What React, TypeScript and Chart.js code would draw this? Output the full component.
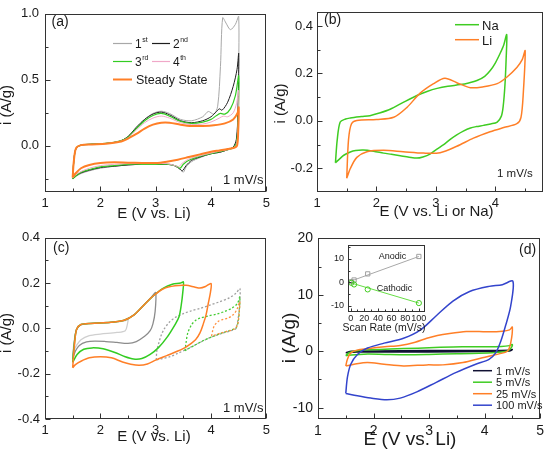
import React, { useEffect, useRef } from "react";
import { Chart, registerables } from "chart.js";
Chart.register(...registerables);

const FONT = "'Liberation Sans', Arial, Helvetica, sans-serif";
const INK = "#1a1a1a";

// ---------------- Panel (a) data ----------------
const aLegendBase = ["1", "2", "3", "4", "Steady State"];
const aLegendSup = ["st", "nd", "rd", "th", ""];
const aXTicks = [1, 2, 3, 4, 5];
const aYTicks = [0, 0.5, 1.0];
const aCycle1E = [1.5, 1.52, 1.56, 1.65, 1.85, 2.1, 2.35, 2.5, 2.65, 2.8, 2.95, 3.1, 3.25, 3.45, 3.65, 3.85, 3.95, 4.05, 4.12, 4.17, 4.21, 4.27, 4.35, 4.44, 4.5,
  4.49, 4.47, 4.42, 4.3, 4.15, 4.0, 3.8, 3.65, 3.55, 3.5, 3.45, 3.3, 3.0, 2.75, 2.5, 2.25, 2.0, 1.8, 1.65, 1.55, 1.5];
const aCycle1I = [-0.25, -0.12, -0.02, 0.005, 0.012, 0.018, 0.035, 0.07, 0.14, 0.2, 0.245, 0.262, 0.245, 0.2, 0.19, 0.22, 0.26, 0.24, 0.3, 0.6, 0.97, 0.93, 0.88, 0.92, 0.98,
  0.4, 0.1, 0.0, -0.03, -0.05, -0.06, -0.09, -0.12, -0.16, -0.2, -0.18, -0.145, -0.14, -0.14, -0.145, -0.155, -0.17, -0.19, -0.21, -0.235, -0.25];
const aCycle2E = [1.5, 1.52, 1.56, 1.65, 1.85, 2.1, 2.35, 2.5, 2.65, 2.8, 2.95, 3.1, 3.25, 3.45, 3.65, 3.85, 4.0, 4.1, 4.15, 4.2, 4.3, 4.4, 4.47, 4.5,
  4.49, 4.46, 4.4, 4.3, 4.15, 4.0, 3.8, 3.65, 3.55, 3.48, 3.42, 3.3, 3.0, 2.75, 2.5, 2.25, 2.0, 1.8, 1.65, 1.55, 1.5];
const aCycle2I = [-0.25, -0.12, -0.02, 0.005, 0.012, 0.018, 0.035, 0.07, 0.14, 0.2, 0.24, 0.255, 0.235, 0.19, 0.175, 0.19, 0.22, 0.26, 0.28, 0.27, 0.33, 0.45, 0.58, 0.7,
  0.3, 0.05, -0.01, -0.03, -0.05, -0.06, -0.085, -0.11, -0.15, -0.19, -0.17, -0.145, -0.14, -0.14, -0.145, -0.155, -0.165, -0.185, -0.205, -0.23, -0.25];
const aCycle3E = [1.5, 1.52, 1.56, 1.65, 1.85, 2.1, 2.35, 2.5, 2.65, 2.8, 2.95, 3.1, 3.25, 3.45, 3.65, 3.85, 4.0, 4.1, 4.17, 4.25, 4.35, 4.44, 4.5,
  4.49, 4.46, 4.4, 4.3, 4.15, 4.0, 3.8, 3.6, 3.5, 3.44, 3.38, 3.25, 3.0, 2.75, 2.5, 2.25, 2.0, 1.8, 1.65, 1.55, 1.5];
const aCycle3I = [-0.25, -0.12, -0.02, 0.005, 0.012, 0.018, 0.035, 0.065, 0.13, 0.19, 0.23, 0.245, 0.225, 0.185, 0.17, 0.18, 0.2, 0.23, 0.245, 0.24, 0.28, 0.38, 0.53,
  0.2, 0.02, -0.015, -0.03, -0.045, -0.06, -0.08, -0.11, -0.14, -0.17, -0.155, -0.14, -0.14, -0.14, -0.14, -0.15, -0.16, -0.18, -0.2, -0.23, -0.25];
const aCycle4E = [1.5, 1.52, 1.56, 1.65, 1.85, 2.1, 2.35, 2.5, 2.65, 2.8, 2.95, 3.1, 3.25, 3.45, 3.65, 3.85, 4.0, 4.15, 4.22, 4.3, 4.4, 4.46, 4.5,
  4.49, 4.46, 4.4, 4.3, 4.15, 4.0, 3.8, 3.6, 3.47, 3.41, 3.35, 3.2, 3.0, 2.75, 2.5, 2.25, 2.0, 1.8, 1.65, 1.55, 1.5];
const aCycle4I = [-0.245, -0.12, -0.02, 0.005, 0.01, 0.017, 0.033, 0.06, 0.12, 0.175, 0.21, 0.225, 0.21, 0.175, 0.16, 0.165, 0.18, 0.21, 0.225, 0.22, 0.25, 0.32, 0.42,
  0.15, 0.01, -0.015, -0.03, -0.04, -0.055, -0.075, -0.1, -0.135, -0.16, -0.15, -0.135, -0.135, -0.135, -0.135, -0.14, -0.15, -0.17, -0.195, -0.22, -0.245];
const aSteadyE = [1.5, 1.52, 1.56, 1.65, 1.85, 2.1, 2.35, 2.5, 2.65, 2.8, 2.95, 3.1, 3.25, 3.45, 3.65, 3.85, 4.05, 4.25, 4.4, 4.48, 4.5,
  4.49, 4.47, 4.42, 4.3, 4.15, 4.0, 3.8, 3.6, 3.4, 3.2, 3.0, 2.75, 2.5, 2.25, 2.0, 1.8, 1.65, 1.55, 1.5];
const aSteadyI = [-0.24, -0.12, -0.02, 0.005, 0.01, 0.015, 0.03, 0.055, 0.09, 0.13, 0.16, 0.175, 0.175, 0.16, 0.15, 0.15, 0.155, 0.17, 0.2, 0.25, 0.29,
  0.1, 0.0, -0.015, -0.025, -0.035, -0.045, -0.065, -0.085, -0.105, -0.12, -0.13, -0.13, -0.128, -0.125, -0.13, -0.145, -0.17, -0.21, -0.24];

// ---------------- Panel (b) data ----------------
const bLegend = ["Na", "Li"];
const bXTicks = [1, 2, 3, 4];
const bYTicks = [-0.2, 0, 0.2, 0.4];
const bNaE = [1.31, 1.34, 1.39, 1.48, 1.56, 1.75, 1.89, 2.05, 2.23, 2.45, 2.68, 2.85, 3.02, 3.2, 3.41, 3.55, 3.69, 3.82, 3.91, 4.0, 4.08, 4.14, 4.19,
  4.18, 4.16, 4.13, 4.1, 4.03, 3.92, 3.8, 3.68, 3.58, 3.46, 3.35, 3.24, 3.13, 3.01, 2.9, 2.78, 2.68, 2.55, 2.4, 2.25, 2.12, 1.95, 1.78, 1.65, 1.56, 1.45, 1.39, 1.31];
const bNaI = [-0.177, -0.08, -0.005, 0.008, 0.012, 0.018, 0.022, 0.033, 0.049, 0.078, 0.107, 0.124, 0.137, 0.146, 0.153, 0.16, 0.17, 0.188, 0.211, 0.245, 0.285, 0.32, 0.364,
  0.26, 0.15, 0.06, 0.02, -0.005, -0.013, -0.019, -0.024, -0.03, -0.043, -0.059, -0.078, -0.1, -0.12, -0.14, -0.152, -0.157, -0.153, -0.147, -0.141, -0.136, -0.128, -0.123, -0.125, -0.131, -0.145, -0.158, -0.177];
const bLiE = [1.5, 1.53, 1.58, 1.67, 2.0, 2.29, 2.51, 2.73, 2.96, 3.15, 3.35, 3.58, 3.8, 4.03, 4.19, 4.36, 4.45, 4.5,
  4.47, 4.43, 4.36, 4.14, 3.91, 3.63, 3.35, 3.07, 2.79, 2.45, 2.12, 1.84, 1.67, 1.56, 1.5];
const bLiI = [-0.242, -0.079, -0.012, 0.002, 0.006, 0.015, 0.056, 0.116, 0.157, 0.18, 0.161, 0.14, 0.144, 0.157, 0.184, 0.225, 0.258, 0.296,
  0.123, 0.015, -0.012, -0.028, -0.046, -0.073, -0.107, -0.134, -0.136, -0.13, -0.124, -0.13, -0.154, -0.201, -0.242];

// ---------------- Panel (c) data ----------------
const cXTicks = [1, 2, 3, 4, 5];
const cYTicks = [-0.4, -0.2, 0, 0.2, 0.4];
const cWin25E = [1.5, 1.53, 1.57, 1.65, 1.83, 2.1, 2.35, 2.47, 2.5, 2.49, 2.45, 2.3, 2.0, 1.8, 1.65, 1.57, 1.52, 1.5];
const cWin25I = [-0.12, -0.05, -0.005, 0.015, 0.022, 0.026, 0.03, 0.035, 0.04, 0.02, -0.01, -0.018, -0.025, -0.032, -0.05, -0.075, -0.1, -0.12];
const cWin30E = [1.5, 1.53, 1.57, 1.65, 1.83, 2.19, 2.43, 2.61, 2.79, 2.93, 3.0,
  2.99, 2.95, 2.9, 2.8, 2.65, 2.5, 2.3, 2.1, 1.9, 1.75, 1.62, 1.55, 1.5];
const cWin30I = [-0.135, -0.06, -0.005, 0.017, 0.022, 0.027, 0.036, 0.06, 0.104, 0.14, 0.158,
  0.075, 0.02, -0.01, -0.035, -0.058, -0.066, -0.062, -0.058, -0.056, -0.06, -0.075, -0.1, -0.135];
const cWin35E = [1.5, 1.53, 1.57, 1.65, 1.83, 2.19, 2.43, 2.61, 2.79, 2.96, 3.14, 3.3, 3.45, 3.5,
  3.49, 3.46, 3.42, 3.35, 3.2, 3.05, 2.9, 2.75, 2.6, 2.45, 2.25, 2.05, 1.85, 1.7, 1.58, 1.5];
const cWin35I = [-0.15, -0.07, -0.005, 0.017, 0.022, 0.027, 0.036, 0.06, 0.104, 0.144, 0.178, 0.195, 0.2, 0.205,
  0.16, 0.1, 0.05, 0.017, -0.041, -0.085, -0.115, -0.133, -0.135, -0.125, -0.105, -0.09, -0.086, -0.092, -0.115, -0.15];
const cWin40E = [1.5, 1.53, 1.57, 1.65, 1.83, 2.19, 2.43, 2.61, 2.79, 2.96, 3.14, 3.35, 3.55, 3.7, 3.8, 3.9, 4.0,
  3.99, 3.95, 3.91, 3.86, 3.8, 3.72, 3.56, 3.4, 3.2, 3.0, 2.85, 2.7, 2.55, 2.4, 2.2, 2.0, 1.8, 1.65, 1.55, 1.5];
const cWin40I = [-0.174, -0.08, -0.005, 0.017, 0.022, 0.027, 0.036, 0.06, 0.104, 0.144, 0.175, 0.188, 0.19, 0.183, 0.178, 0.185, 0.198,
  0.16, 0.11, 0.06, 0.02, -0.02, -0.05, -0.08, -0.1, -0.12, -0.14, -0.157, -0.163, -0.158, -0.148, -0.13, -0.125, -0.13, -0.145, -0.16, -0.174];
const cHi30E = [3.01, 3.02, 3.05, 3.1, 3.16, 3.25, 3.35, 3.5, 3.65, 3.8, 3.98, 4.15, 4.33, 4.45, 4.52,
  4.52, 4.5, 4.45, 4.39, 4.2, 3.98, 3.75, 3.56, 3.4, 3.26, 3.1, 3.01];
const cHi30I = [-0.139, -0.1, -0.07, -0.03, 0.0, 0.028, 0.048, 0.065, 0.078, 0.088, 0.103, 0.117, 0.135, 0.155, 0.176,
  0.12, 0.06, 0.0, -0.008, -0.022, -0.041, -0.068, -0.092, -0.11, -0.125, -0.135, -0.139];
const cHi35E = [3.53, 3.55, 3.58, 3.65, 3.72, 3.8, 3.95, 4.1, 4.25, 4.38, 4.48, 4.52,
  4.51, 4.49, 4.45, 4.35, 4.2, 3.98, 3.85, 3.7, 3.6, 3.53];
const cHi35I = [-0.099, -0.06, -0.02, 0.017, 0.035, 0.045, 0.055, 0.063, 0.075, 0.09, 0.111, 0.14,
  0.074, 0.03, 0.002, -0.008, -0.02, -0.041, -0.055, -0.075, -0.088, -0.099];
const cHi40E = [4.01, 4.03, 4.06, 4.13, 4.22, 4.3, 4.4, 4.47, 4.52,
  4.5, 4.48, 4.42, 4.3, 4.18, 4.08, 4.01];
const cHi40I = [-0.034, -0.01, 0.012, 0.031, 0.04, 0.045, 0.06, 0.085, 0.118,
  0.05, 0.017, -0.003, -0.012, -0.02, -0.028, -0.034];

// ---------------- Panel (d) data ----------------
const dLegend = ["1 mV/s", "5 mV/s", "25 mV/s", "100 mV/s"];
const dXTicks = [1, 2, 3, 4, 5];
const dYTicks = [-10, 0, 10, 20];
const d1E = [1.5, 1.6, 2.0, 3.0, 4.0, 4.45, 4.5, 4.45, 4.0, 3.0, 2.2, 1.7, 1.5];
const d1I = [-0.25, 0.0, 0.05, 0.15, 0.15, 0.2, 0.3, 0.05, -0.05, -0.12, -0.12, -0.15, -0.25];
const d5E = [1.5, 1.55, 1.65, 1.9, 2.3, 2.8, 3.2, 3.6, 4.0, 4.3, 4.45, 4.5, 4.47, 4.4, 4.2, 3.9, 3.5, 3.0, 2.6, 2.2, 1.9, 1.7, 1.55, 1.5];
const d5I = [-0.8, -0.3, 0.0, 0.25, 0.4, 0.55, 0.7, 0.8, 0.8, 0.85, 1.0, 1.2, 0.5, 0.0, -0.2, -0.35, -0.45, -0.55, -0.6, -0.55, -0.5, -0.6, -0.7, -0.8];
const d25E = [1.5, 1.53, 1.59, 1.7, 1.89, 2.2, 2.48, 2.75, 2.96, 3.15, 3.37, 3.67, 3.9, 4.08, 4.32, 4.45, 4.5,
  4.47, 4.41, 4.26, 3.96, 3.61, 3.25, 2.96, 2.54, 2.19, 1.89, 1.65, 1.5];
const d25I = [-2.6, -1.4, -0.29, 0.2, 0.46, 0.8, 1.03, 1.6, 2.3, 2.8, 3.16, 3.5, 3.5, 3.45, 3.56, 3.8, 4.3,
  1.44, 0.0, -0.46, -1.15, -2.0, -2.41, -2.41, -2.59, -2.3, -2.0, -2.3, -2.6];
const d100E = [1.5, 1.53, 1.59, 1.71, 1.89, 2.19, 2.54, 2.84, 3.13, 3.43, 3.73, 4.08, 4.32, 4.51,
  4.47, 4.38, 4.29, 4.2, 4.08, 3.84, 3.49, 3.13, 2.78, 2.48, 2.24, 1.95, 1.71, 1.5];
const d100I = [-7.47, -4.6, -2.3, -0.57, 0.57, 1.44, 2.3, 3.74, 6.3, 8.9, 10.6, 11.5, 11.8, 12.4,
  8.0, 4.6, 1.72, -0.29, -1.44, -2.3, -3.74, -5.5, -7.2, -8.3, -8.6, -8.3, -7.9, -7.47];

// ---------------- Inset data ----------------
const insetScanRates = [1, 5, 25, 100];
const insetAnodic = [0.3, 1.0, 3.6, 11.0];
const insetCathodic = [-0.2, -0.9, -3.0, -8.8];
const insetAnodicFitX = [1, 100];
const insetAnodicFitY = [0.6, 11.0];
const insetCathodicFitX = [0, 100];
const insetCathodicFitY = [-0.2, -8.8];
const insetXTicks = [0, 20, 40, 60, 80, 100];
const insetYTicks = [-10, 0, 10];

// ---------------- colours ----------------
const ORANGE = "#ff7f27";
const GREEN = "#3fcc22";
const BLUE = "#3344cc";

type Series = {
  E: number[]; I: number[]; color: string; width: number; dash?: number[];
  marker?: string; markerSize?: number; showLine?: boolean; tension?: number;
};
type TextItem = { text: string; x: number; y: number; size: number; align?: CanvasTextAlign; rotate?: boolean; sup?: string };
type LegendItem = { x1: number; x2: number; y: number; color: string; width: number; dash?: number[] };
type PanelSpec = {
  box: { left: number; top: number; width: number; height: number };
  area: { left: number; top: number; right: number; bottom: number };
  xRange: [number, number]; yRange: [number, number];
  xTicks: number[]; yTicks: number[]; xMinor: number[]; yMinor: number[];
  xDigits: number; yDigits: number;
  tickSize: number; xPad: number; yPad: number; majorLen: number; minorLen: number;
  series: Series[]; texts: TextItem[]; legend: LegendItem[];
};

const ser = (E: number[], I: number[], color: string, width: number, extra: Partial<Series> = {}): Series => ({ E, I, color, width, ...extra });

const panelA: PanelSpec = {
  box: { left: 0, top: 0, width: 274, height: 225 },
  area: { left: 45, top: 4, right: 269, bottom: 192 },
  xRange: [1, 5], yRange: [-0.35, 1.0],
  xTicks: aXTicks, yTicks: aYTicks, xMinor: [1.5, 2.5, 3.5, 4.5], yMinor: [-0.25, 0.25, 0.75],
  xDigits: 0, yDigits: 1, tickSize: 13, xPad: 4, yPad: 6, majorLen: 5, minorLen: 3,
  series: [
    ser(aCycle1E, aCycle1I, "#a8a8a8", 1),
    ser(aCycle2E, aCycle2I, "#1e1e1e", 1),
    ser(aCycle3E, aCycle3I, "#33cc22", 1.2),
    ser(aCycle4E, aCycle4I, "#f0a8c8", 1),
    ser(aSteadyE, aSteadyI, ORANGE, 2),
  ],
  texts: [
    { text: "E (V vs. Li)", x: 154, y: 218, size: 15, align: "center" },
    { text: "i (A/g)", x: 11, y: 105, size: 15, rotate: true },
    { text: "(a)", x: 51.5, y: 26, size: 14 },
    { text: "1 mV/s", x: 223, y: 184, size: 13 },
    { text: aLegendBase[0], sup: aLegendSup[0], x: 135, y: 48, size: 12 },
    { text: aLegendBase[1], sup: aLegendSup[1], x: 173, y: 48, size: 12 },
    { text: aLegendBase[2], sup: aLegendSup[2], x: 135, y: 66, size: 12 },
    { text: aLegendBase[3], sup: aLegendSup[3], x: 173, y: 66, size: 12 },
    { text: aLegendBase[4], x: 136, y: 83.5, size: 12.5 },
  ],
  legend: [
    { x1: 113, x2: 132, y: 43.5, color: "#a8a8a8", width: 1.2 },
    { x1: 152, x2: 170, y: 43.5, color: "#1e1e1e", width: 1.2 },
    { x1: 113, x2: 132, y: 61.5, color: "#33cc22", width: 1.2 },
    { x1: 152, x2: 170, y: 61.5, color: "#f0a8c8", width: 1.2 },
    { x1: 113, x2: 132, y: 79.5, color: ORANGE, width: 2 },
  ],
};

const panelB: PanelSpec = {
  box: { left: 274, top: 0, width: 274, height: 225 },
  area: { left: 317, top: 4, right: 543, bottom: 192 },
  xRange: [1, 4.8], yRange: [-0.3, 0.46],
  xTicks: bXTicks, yTicks: bYTicks, xMinor: [1.5, 2.5, 3.5, 4.5], yMinor: [-0.1, 0.1, 0.3],
  xDigits: 0, yDigits: 1, tickSize: 13, xPad: 4, yPad: 4, majorLen: 5, minorLen: 3,
  series: [
    ser(bNaE, bNaI, GREEN, 1.5),
    ser(bLiE, bLiI, ORANGE, 1.5),
  ],
  texts: [
    { text: "E (V vs. Li or Na)", x: 436.5, y: 216, size: 15, align: "center" },
    { text: "i (A/g)", x: 284.5, y: 103.5, size: 15, rotate: true },
    { text: "(b)", x: 324, y: 24, size: 14 },
    { text: "1 mV/s", x: 497, y: 176.5, size: 11.5 },
    { text: bLegend[0], x: 482, y: 29.5, size: 13 },
    { text: bLegend[1], x: 482, y: 44.5, size: 13 },
  ],
  legend: [
    { x1: 455, x2: 479, y: 24.7, color: GREEN, width: 1.5 },
    { x1: 455, x2: 479, y: 39.7, color: ORANGE, width: 1.5 },
  ],
};

const DASH = [2, 2];
const panelC: PanelSpec = {
  box: { left: 0, top: 225, width: 274, height: 226 },
  area: { left: 45, top: 235, right: 269, bottom: 419 },
  xRange: [1, 5], yRange: [-0.4, 0.4],
  xTicks: cXTicks, yTicks: cYTicks, xMinor: [1.5, 2.5, 3.5, 4.5], yMinor: [-0.3, -0.1, 0.1, 0.3],
  xDigits: 0, yDigits: 1, tickSize: 13, xPad: 4, yPad: 5, majorLen: 5, minorLen: 3,
  series: [
    ser(cHi30E, cHi30I, "#a0a0a0", 1.3, { dash: DASH }),
    ser(cHi35E, cHi35I, "#44cc33", 1.3, { dash: DASH }),
    ser(cHi40E, cHi40I, "#ff9040", 1.3, { dash: DASH }),
    ser(cWin25E, cWin25I, "#cfcfcf", 1.3),
    ser(cWin30E, cWin30I, "#8c8c8c", 1.3),
    ser(cWin35E, cWin35I, "#33cc22", 1.5),
    ser(cWin40E, cWin40I, ORANGE, 1.5),
  ],
  texts: [
    { text: "E (V vs. Li)", x: 154, y: 441, size: 15, align: "center" },
    { text: "i (A/g)", x: 11, y: 333, size: 15, rotate: true },
    { text: "(c)", x: 53, y: 252, size: 14 },
    { text: "1 mV/s", x: 223, y: 411.5, size: 13 },
  ],
  legend: [],
};

const panelD: PanelSpec = {
  box: { left: 274, top: 225, width: 274, height: 226 },
  area: { left: 318, top: 235, right: 543, bottom: 419 },
  xRange: [1, 5], yRange: [-12, 20],
  xTicks: dXTicks, yTicks: dYTicks, xMinor: [1.5, 2.5, 3.5, 4.5], yMinor: [-5, 5, 15],
  xDigits: 0, yDigits: 0, tickSize: 14, xPad: 4, yPad: 5, majorLen: 5, minorLen: 3,
  series: [
    ser(d1E, d1I, "#111133", 1.5),
    ser(d5E, d5I, GREEN, 1.5),
    ser(d25E, d25I, ORANGE, 1.5),
    ser(d100E, d100I, BLUE, 1.5),
  ],
  texts: [
    { text: "E (V vs. Li)", x: 410, y: 445, size: 19, align: "center" },
    { text: "i (A/g)", x: 295, y: 338, size: 19, rotate: true },
    { text: "(d)", x: 519, y: 254, size: 14 },
    { text: dLegend[0], x: 496, y: 374.5, size: 11 },
    { text: dLegend[1], x: 496, y: 386, size: 11 },
    { text: dLegend[2], x: 496, y: 397.5, size: 11 },
    { text: dLegend[3], x: 496, y: 409, size: 11 },
  ],
  legend: [
    { x1: 473, x2: 492, y: 370.7, color: "#111133", width: 1.5 },
    { x1: 473, x2: 492, y: 382.2, color: GREEN, width: 1.5 },
    { x1: 473, x2: 492, y: 393.7, color: ORANGE, width: 1.5 },
    { x1: 473, x2: 492, y: 405.2, color: BLUE, width: 1.5 },
  ],
};

const panelInset: PanelSpec = {
  box: { left: 318, top: 236, width: 112, height: 100 },
  area: { left: 348, top: 244, right: 427, bottom: 312 },
  xRange: [-3.9, 109], yRange: [-12.6, 15.7],
  xTicks: insetXTicks, yTicks: insetYTicks, xMinor: [10, 30, 50, 70, 90], yMinor: [-5, 5, 15],
  xDigits: 0, yDigits: 0, tickSize: 9, xPad: 1, yPad: 4, majorLen: 3, minorLen: 2,
  series: [
    ser(insetAnodicFitX, insetAnodicFitY, "#a8a8a8", 1, { tension: 0 }),
    ser(insetCathodicFitX, insetCathodicFitY, "#66dd44", 1, { tension: 0 }),
    ser(insetScanRates, insetAnodic, "#a0a0a0", 1, { marker: "rect", markerSize: 3, showLine: false }),
    ser(insetScanRates, insetCathodic, "#44cc22", 1, { marker: "circle", markerSize: 2.6, showLine: false }),
  ],
  texts: [
    { text: "Peak Current (A/g)", x: 286, y: 279, size: 10, rotate: true },
    { text: "Scan Rate (mV/s)", x: 384, y: 331, size: 10.5, align: "center" },
    { text: "Anodic", x: 392.5, y: 259, size: 9, align: "center" },
    { text: "Cathodic", x: 394.5, y: 290.5, size: 9, align: "center" },
  ],
  legend: [],
};

function Panel({ spec }: { spec: PanelSpec }) {
  const ref = useRef<HTMLCanvasElement>(null);
  useEffect(() => {
    const { box, area } = spec;
    const frame = {
      id: "frame",
      afterDraw(chart: any) {
        const ctx = chart.ctx as CanvasRenderingContext2D;
        const a = chart.chartArea;
        const xs = chart.scales.x;
        const ys = chart.scales.y;
        ctx.save();
        ctx.strokeStyle = "#333";
        ctx.lineWidth = 1;
        ctx.setLineDash([]);
        ctx.strokeRect(Math.round(a.left) + 0.5, Math.round(a.top) + 0.5, Math.round(a.right - a.left) - 1, Math.round(a.bottom - a.top) - 1);
        const bx = Math.round(a.bottom) - 0.5;
        const lx = Math.round(a.left) + 0.5;
        const tick = (vals: number[], len: number) => {
          vals.forEach((v) => {
            const px = Math.round(xs.getPixelForValue(v)) + 0.5;
            ctx.beginPath(); ctx.moveTo(px, bx); ctx.lineTo(px, bx - len); ctx.stroke();
          });
        };
        const ytick = (vals: number[], len: number) => {
          vals.forEach((v) => {
            const py = Math.round(ys.getPixelForValue(v)) + 0.5;
            ctx.beginPath(); ctx.moveTo(lx, py); ctx.lineTo(lx + len, py); ctx.stroke();
          });
        };
        tick(spec.xTicks, spec.majorLen); tick(spec.xMinor, spec.minorLen);
        ytick(spec.yTicks, spec.majorLen); ytick(spec.yMinor, spec.minorLen);
        // legend lines
        spec.legend.forEach((l) => {
          ctx.strokeStyle = l.color; ctx.lineWidth = l.width; ctx.setLineDash(l.dash ?? []);
          ctx.beginPath(); ctx.moveTo(l.x1 - box.left, l.y - box.top); ctx.lineTo(l.x2 - box.left, l.y - box.top); ctx.stroke();
        });
        ctx.setLineDash([]);
        // texts
        ctx.fillStyle = INK;
        ctx.textBaseline = "alphabetic";
        spec.texts.forEach((t) => {
          ctx.font = `${t.size}px ${FONT}`;
          const x = t.x - box.left, y = t.y - box.top;
          if (t.rotate) {
            ctx.save(); ctx.translate(x, y); ctx.rotate(-Math.PI / 2);
            ctx.textAlign = "center"; ctx.fillText(t.text, 0, 0); ctx.restore();
          } else {
            ctx.textAlign = t.align ?? "left";
            ctx.fillText(t.text, x, y);
            if (t.sup) {
              const w = ctx.measureText(t.text).width;
              ctx.font = `${Math.round(t.size * 0.62)}px ${FONT}`;
              ctx.textAlign = "left";
              ctx.fillText(t.sup, x + w + 0.5, y - t.size * 0.5);
            }
          }
        });
        ctx.restore();
      },
    };
    const tickFont = { family: FONT, size: spec.tickSize };
    const chart = new Chart(ref.current as HTMLCanvasElement, {
      type: "scatter",
      data: {
        datasets: spec.series.map((s, k) => ({
          data: s.E.map((x, j) => ({ x, y: s.I[j] })),
          showLine: s.showLine !== false,
          borderColor: s.color,
          backgroundColor: s.color,
          borderWidth: s.width,
          borderDash: s.dash ?? [],
          pointRadius: s.marker ? s.markerSize ?? 3 : 0,
          pointStyle: (s.marker ?? "circle") as any,
          pointBorderColor: s.color,
          pointBackgroundColor: "rgba(255,255,255,0)",
          pointBorderWidth: 1,
          tension: s.tension ?? 0.3,
          order: -k,
        })),
      },
      options: {
        responsive: false,
        maintainAspectRatio: false,
        animation: false,
        events: [],
        layout: { padding: { left: 0, top: area.top - box.top, right: box.left + box.width - area.right, bottom: 0 } },
        plugins: { legend: { display: false }, tooltip: { enabled: false } },
        scales: {
          x: {
            type: "linear", min: spec.xRange[0], max: spec.xRange[1],
            grid: { display: false, drawTicks: false }, border: { display: false },
            afterFit: (s: any) => { s.height = box.top + box.height - area.bottom; },
            afterBuildTicks: (s: any) => { s.ticks = spec.xTicks.map((v) => ({ value: v })); },
            ticks: {
              font: tickFont, color: INK, padding: spec.xPad, maxRotation: 0, autoSkip: false,
              callback: (v: any) => Number(v).toFixed(spec.xDigits),
            },
          },
          y: {
            type: "linear", min: spec.yRange[0], max: spec.yRange[1],
            grid: { display: false, drawTicks: false }, border: { display: false },
            afterFit: (s: any) => { s.width = area.left - box.left; },
            afterBuildTicks: (s: any) => { s.ticks = spec.yTicks.map((v) => ({ value: v })); },
            ticks: {
              font: tickFont, color: INK, padding: spec.yPad, autoSkip: false,
              callback: (v: any) => Number(v).toFixed(spec.yDigits),
            },
          },
        },
      },
      plugins: [frame],
    } as any);
    return () => chart.destroy();
  }, [spec]);
  const { box } = spec;
  return (
    <canvas
      ref={ref}
      width={box.width}
      height={box.height}
      style={{ position: "absolute", left: box.left, top: box.top, width: box.width, height: box.height }}
    />
  );
}

export default function App() {
  return (
    <div style={{ position: "absolute", left: 0, top: 0, width: 548, height: 451, background: "#fff", overflow: "hidden" }}>
      <Panel spec={panelA} />
      <Panel spec={panelB} />
      <Panel spec={panelC} />
      <Panel spec={panelD} />
      <Panel spec={panelInset} />
    </div>
  );
}
